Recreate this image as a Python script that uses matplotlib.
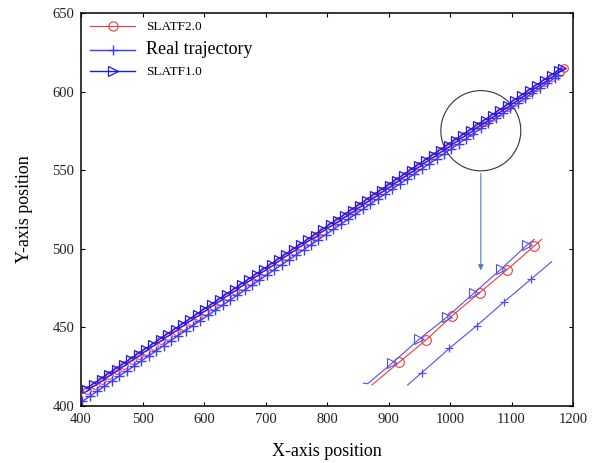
import numpy as np
import matplotlib
matplotlib.use('Agg')
import matplotlib.pyplot as plt
from matplotlib.patches import Ellipse

plt.rcParams['font.family'] = ['Liberation Serif', 'DejaVu Serif']

# SLATF2.0 (red circles)
x_v2 = [410, 422, 434, 446, 458, 470, 482, 494, 506, 518, 530, 542, 554, 566, 578, 590, 602,
        614, 626, 638, 650, 662, 674, 686, 698, 710, 722, 734, 746, 758, 770, 782, 794, 806,
        818, 830, 842, 854, 866, 878, 890, 902, 914, 926, 938, 950, 962, 974, 986, 998, 1010,
        1022, 1034, 1046, 1058, 1070, 1082, 1094, 1106, 1118, 1130, 1142, 1154, 1166, 1178, 1186]
y_v2 = [410.0, 413.2, 416.3, 419.5, 422.7, 425.8, 429.0, 432.2, 435.3, 438.5, 441.7, 444.8,
        448.0, 451.2, 454.3, 457.5, 460.7, 463.8, 467.0, 470.2, 473.3, 476.5, 479.7, 482.8,
        486.0, 489.2, 492.3, 495.5, 498.7, 501.8, 505.0, 508.1, 511.3, 514.5, 517.6, 520.8,
        524.0, 527.1, 530.3, 533.5, 536.6, 539.8, 543.0, 546.1, 549.3, 552.5, 555.6, 558.8,
        562.0, 565.1, 568.3, 571.5, 574.6, 577.8, 580.9, 584.1, 587.3, 590.4, 593.6, 596.8,
        599.9, 603.1, 606.3, 609.4, 612.6, 614.7]

# Real trajectory (blue +)
x_real = [402, 414, 426, 438, 450, 462, 474, 486, 498, 510, 522, 534, 546, 558, 570, 582, 594,
          606, 618, 630, 642, 654, 666, 678, 690, 702, 714, 726, 738, 750, 762, 774, 786, 798,
          810, 822, 834, 846, 858, 870, 882, 894, 906, 918, 930, 942, 954, 966, 978, 990, 1002,
          1014, 1026, 1038, 1050, 1062, 1074, 1086, 1098, 1110, 1122, 1134, 1146, 1158, 1170, 1176]
y_real = [403.0, 406.2, 409.4, 412.6, 415.9, 419.1, 422.3, 425.5, 428.7, 431.9, 435.1, 438.4,
          441.6, 444.8, 448.0, 451.2, 454.4, 457.6, 460.9, 464.1, 467.3, 470.5, 473.7, 476.9,
          480.1, 483.4, 486.6, 489.8, 493.0, 496.2, 499.4, 502.6, 505.8, 509.1, 512.3, 515.5,
          518.7, 521.9, 525.1, 528.3, 531.6, 534.8, 538.0, 541.2, 544.4, 547.6, 550.8, 554.1,
          557.3, 560.5, 563.7, 566.9, 570.1, 573.3, 576.6, 579.8, 583.0, 586.2, 589.4, 592.6,
          595.8, 599.1, 602.3, 605.5, 608.7, 610.3]

# SLATF1.0 (blue triangles)
x_v1 = [408, 420, 432, 444, 456, 468, 480, 492, 504, 516, 528, 540, 552, 564, 576, 588, 600,
        612, 624, 636, 648, 660, 672, 684, 696, 708, 720, 732, 744, 756, 768, 780, 792, 804,
        816, 828, 840, 852, 864, 876, 888, 900, 912, 924, 936, 948, 960, 972, 984, 996, 1008,
        1020, 1032, 1044, 1056, 1068, 1080, 1092, 1104, 1116, 1128, 1140, 1152, 1164, 1176, 1182]
y_v1 = [411.0, 414.2, 417.3, 420.5, 423.7, 426.8, 430.0, 433.2, 436.3, 439.5, 442.7, 445.8,
        449.0, 452.2, 455.3, 458.5, 461.7, 464.8, 468.0, 471.2, 474.3, 477.5, 480.7, 483.8,
        487.0, 490.2, 493.3, 496.5, 499.7, 502.8, 506.0, 509.1, 512.3, 515.5, 518.6, 521.8,
        525.0, 528.1, 531.3, 534.5, 537.6, 540.8, 544.0, 547.1, 550.3, 553.5, 556.6, 559.8,
        563.0, 566.1, 569.3, 572.5, 575.6, 578.8, 581.9, 585.1, 588.3, 591.4, 594.6, 597.8,
        600.9, 604.1, 607.3, 610.4, 613.6, 615.0]

# zoomed-in detail drawn below the curve
ix_v1 = [859, 866, 906, 950, 995, 1039, 1083, 1125, 1137]
iy_v1 = [414.6, 414.2, 427.4, 442.6, 456.6, 471.9, 487.1, 502.4, 506.0]
ix_v2 = [873, 917, 961, 1003, 1048, 1092, 1137, 1149]
iy_v2 = [413.4, 427.8, 442.0, 457.3, 472.1, 486.5, 501.8, 506.0]
ix_real = [931, 954, 999, 1043, 1088, 1132, 1165]
iy_real = [413.4, 421.2, 436.7, 451.0, 466.3, 480.8, 491.8]

red = '#f03a3a'
blue1 = '#1a1af5'
blue_real = '#3c3cff'

fig = plt.figure(figsize=(5.92, 4.63), dpi=100)
ax = fig.add_axes([0.137, 0.123, 0.831, 0.849])

ax.plot(x_v2, y_v2, color=red, lw=0.8, marker='o', ms=5.5, mfc='none', mew=0.8, label='SLATF2.0')
ax.plot(x_real, y_real, color=blue_real, lw=1.0, marker='+', ms=6.5, mew=1.0, label='Real trajectory')
ax.plot(x_v1, y_v1, color=blue1, lw=1.0, marker='>', ms=6, mfc='none', mew=0.9, label='SLATF1.0')

ax.plot(ix_v2, iy_v2, color=red, lw=0.8, marker='o', ms=7, mfc='none', mew=0.8,
        markevery=list(range(1, len(ix_v2) - 1)))
ax.plot(ix_v1, iy_v1, color='#5050f0', lw=0.8, marker='>', ms=7, mfc='none', mew=0.8,
        markevery=list(range(2, len(ix_v1) - 1)))
ax.plot(ix_real, iy_real, color='#5050f0', lw=0.8, marker='+', ms=6, mew=0.9,
        markevery=list(range(1, len(ix_real) - 1)))

ax.add_patch(Ellipse((1050, 575.1), 130, 51, fill=False, edgecolor='#333333', lw=0.8))
ax.annotate('', xy=(1050, 484.5), xytext=(1050, 549.6),
            arrowprops=dict(arrowstyle='-|>', color='#4a7ec8', lw=0.8, mutation_scale=8))

ax.set_xlim(400, 1200)
ax.set_ylim(400, 650)
ax.set_xticks(np.arange(400, 1201, 100))
ax.set_yticks(np.arange(400, 651, 50))
ax.tick_params(direction='in', length=3, top=True, right=True, labelsize=10.5, pad=5,
               labelcolor='#222222')
for s in ax.spines.values():
    s.set_linewidth(1.1)

ax.set_xlabel('X-axis position', fontsize=13, labelpad=12)
ax.set_ylabel('Y-axis position', fontsize=13, labelpad=14)

leg = ax.legend(loc='upper left', bbox_to_anchor=(0.0, 1.003), frameon=False, fontsize=9.5,
                handlelength=3.4, handletextpad=0.8, labelspacing=0.6, borderaxespad=0.3,
                markerscale=1.2)
leg.get_texts()[1].set_fontsize(13)

fig.savefig('out.png', dpi=100)
